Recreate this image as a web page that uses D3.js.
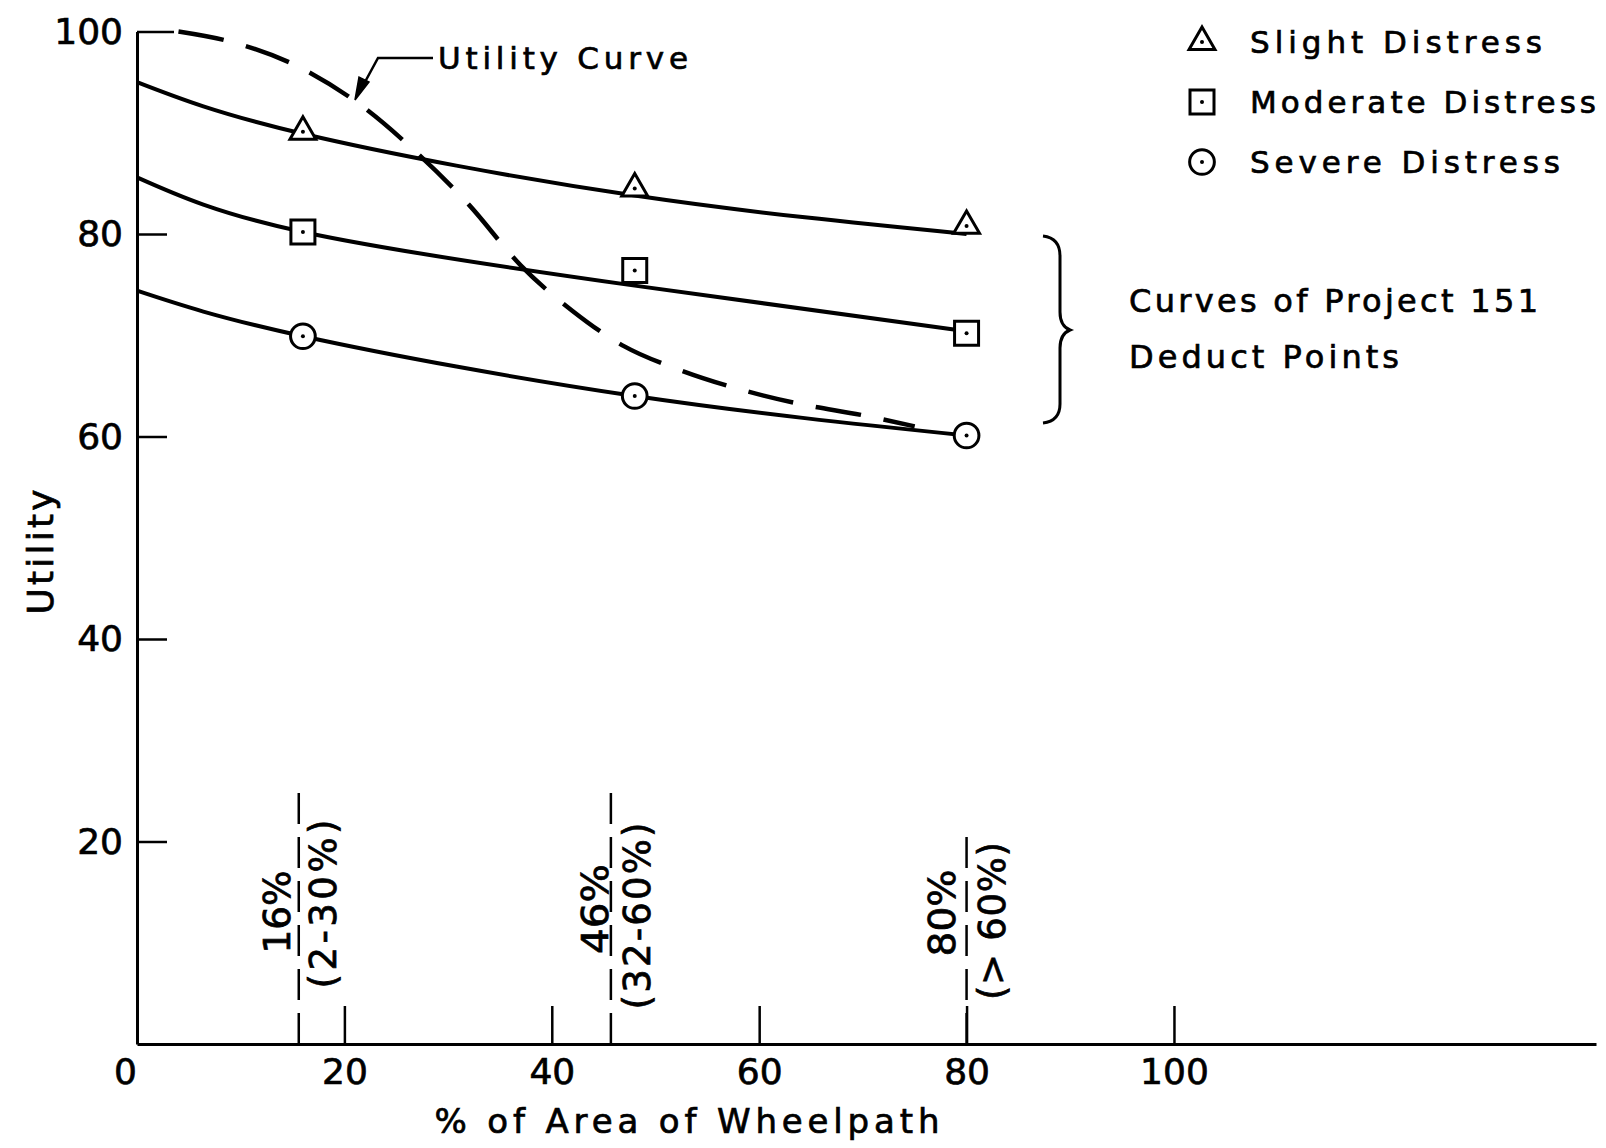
<!DOCTYPE html>
<html>
<head>
<meta charset="utf-8">
<script src="https://cdn.jsdelivr.net/npm/d3@7"></script>
<style>
	body { margin: 0; background: #fff; }
	svg text { font-family: 'DejaVu Sans', sans-serif; fill: #000; stroke: #000; stroke-width: 0.7px; }
</style>
</head>
<body>
<svg id="chart" width="1606" height="1148"></svg>
<script>
// data
var xTicks = [0, 20, 40, 60, 80, 100];
var yTicks = [20, 40, 60, 80, 100];

var areaPct = [16, 48, 80];
var slight = [90.1, 84.5, 80.8];
var moderate = [80.2, 76.4, 70.2];
var severe = [69.9, 64.0, 60.1];

// fitted (solid) curves
var fitX = [0, 16, 48, 80];
var slightFit = [95.0, 89.9, 83.8, 80.0];
var moderateFit = [85.6, 80.2, 74.9, 70.4];
var severeFit = [74.4, 69.9, 64.0, 60.1];

// dashed utility curve
var utilX = [4, 9, 16, 22, 27, 32, 37, 42, 47, 52, 58, 64, 70, 75];
var utilY = [100, 99, 96.3, 92.4, 88, 82.9, 76.9, 72.4, 68.9, 66.7, 64.7, 63.2, 62.1, 61.0];

// class markers on the x axis
var classX = [15.6, 45.7, 80];
var classTop = [24.8, 25.4, 21];
var classPct = ['16%', '46%', '80%'];
var classRange = ['(2-30%)', '(32-60%)', '(> 60%)'];

var legendNames = ['Slight Distress', 'Moderate Distress', 'Severe Distress'];

var svg = d3.select('svg#chart');

var xScale = d3.scaleLinear().domain([0, 140.7]).range([137, 1596]);
var yScale = d3.scaleLinear().domain([0, 100]).range([1044, 31.5]);

// axes
var xAxis = d3.axisBottom(xScale)
	.tickValues(xTicks)
	.tickSizeInner(-38)
	.tickSizeOuter(0)
	.tickPadding(14)
	.tickFormat(d3.format('d'));

var yAxis = d3.axisLeft(yScale)
	.tickValues(yTicks)
	.tickSizeInner(-30)
	.tickSizeOuter(0)
	.tickPadding(14)
	.tickFormat(d3.format('d'));

var gx = svg.append('g')
	.attr('transform', 'translate(0,' + yScale(0) + ')')
	.call(xAxis);

var gy = svg.append('g')
	.attr('transform', 'translate(' + xScale(0) + ',0)')
	.call(yAxis);

[gx, gy].forEach(function (g) {
	g.select('.domain').style('stroke', '#000').style('stroke-width', '3px');
	g.selectAll('.tick line').style('stroke', '#000').style('stroke-width', '2.5px');
	g.selectAll('.tick text')
		.attr('font-family', null)
		.style('font-size', '36px')
		.style('fill', '#000');
});

gx.selectAll('.tick')
	.filter(function (d) { return d === 0; })
	.each(function () {
		d3.select(this).select('line').remove();
		d3.select(this).select('text').attr('x', -12);
	});

gy.selectAll('.tick')
	.filter(function (d) { return d === 100; })
	.select('line')
	.attr('x2', 37);

// axis titles
svg.append('text')
	.attr('x', 687)
	.attr('y', 1133)
	.attr('text-anchor', 'middle')
	.attr('textLength', 505)
	.attr('lengthAdjust', 'spacing')
	.style('font-size', '34px')
	.text('% of Area of Wheelpath');

svg.append('text')
	.attr('transform', 'translate(53,552) rotate(-90)')
	.attr('text-anchor', 'middle')
	.attr('textLength', 125)
	.attr('lengthAdjust', 'spacing')
	.style('font-size', '36px')
	.text('Utility');

// class lines with labels
var classes = svg.selectAll('g.cls')
	.data(classX)
	.enter()
	.append('g')
	.attr('class', 'cls');

classes.append('line')
	.attr('x1', function (d) { return xScale(d); })
	.attr('x2', function (d) { return xScale(d); })
	.attr('y1', yScale(0))
	.attr('y2', function (d, i) { return yScale(classTop[i]); })
	.style('stroke', '#000')
	.style('stroke-width', '2.5px')
	.style('stroke-dasharray', '31 13');

var pctPos = [[290, 912, 83], [608, 909, 90], [955, 913, 87]];
var rangePos = [[336, 904, 169], [650, 916, 187], [1005, 921, 158]];

classes.append('text')
	.attr('transform', function (d, i) {
		return 'translate(' + pctPos[i][0] + ',' + pctPos[i][1] + ') rotate(-90)';
	})
	.attr('text-anchor', 'middle')
	.attr('textLength', function (d, i) { return pctPos[i][2]; })
	.attr('lengthAdjust', 'spacingAndGlyphs')
	.style('font-size', '38px')
	.text(function (d, i) { return classPct[i]; });

classes.append('text')
	.attr('transform', function (d, i) {
		return 'translate(' + rangePos[i][0] + ',' + rangePos[i][1] + ') rotate(-90)';
	})
	.attr('text-anchor', 'middle')
	.attr('textLength', function (d, i) { return rangePos[i][2]; })
	.attr('lengthAdjust', 'spacing')
	.style('font-size', '37px')
	.text(function (d, i) { return classRange[i]; });

// curves
var line = d3.line()
	.x(function (d) { return xScale(d[0]); })
	.y(function (d) { return yScale(d[1]); })
	.curve(d3.curveNatural);

[slightFit, moderateFit, severeFit].forEach(function (s) {
	svg.append('path')
		.datum(d3.zip(fitX, s))
		.attr('d', line)
		.style('fill', 'none')
		.style('stroke', '#000')
		.style('stroke-width', '4px');
});

svg.append('path')
	.datum(d3.zip(utilX, utilY))
	.attr('d', line.curve(d3.curveMonotoneX))
	.style('fill', 'none')
	.style('stroke', '#000')
	.style('stroke-width', '4.5px')
	.style('stroke-dasharray', '46 23');

// markers
var symbols = [
	d3.symbol(d3.symbolTriangle, 290),
	d3.symbol(d3.symbolSquare, 576),
	d3.symbol(d3.symbolCircle, 480)
];

function marker(g, k) {
	g.append('path')
		.attr('d', symbols[k]())
		.style('fill', '#fff')
		.style('stroke', '#000')
		.style('stroke-width', '3px');
	g.append('circle')
		.attr('r', 2)
		.style('fill', '#000');
}

[slight, moderate, severe].forEach(function (s, k) {
	svg.selectAll('g.pt' + k)
		.data(s)
		.enter()
		.append('g')
		.attr('class', 'pt' + k)
		.attr('transform', function (d, i) {
			return 'translate(' + xScale(areaPct[i]) + ',' + yScale(d) + ')';
		})
		.each(function () { marker(d3.select(this), k); });
});

// legend
var legendLen = [292, 346, 310];
var legend = svg.selectAll('g.legend')
	.data(legendNames)
	.enter()
	.append('g')
	.attr('class', 'legend')
	.attr('transform', function (d, i) {
		return 'translate(1202,' + (42 + i * 60) + ')';
	});

legend.each(function (d, i) { marker(d3.select(this), i); });

legend.append('text')
	.attr('x', 48)
	.attr('y', 11)
	.attr('textLength', function (d, i) { return legendLen[i]; })
	.attr('lengthAdjust', 'spacing')
	.style('font-size', '31px')
	.text(function (d) { return d; });

// utility curve label + leader
svg.append('text')
	.attr('x', 438)
	.attr('y', 69)
	.attr('textLength', 250)
	.attr('lengthAdjust', 'spacing')
	.style('font-size', '31px')
	.text('Utility Curve');

svg.append('path')
	.attr('d', 'M433,58 L378,58 L359,93')
	.style('fill', 'none')
	.style('stroke', '#000')
	.style('stroke-width', '2.5px');

svg.append('path')
	.attr('d', 'M355,100 L359,77 L369,82 Z')
	.style('fill', '#000')
	.style('stroke', '#000')
	.style('stroke-width', '1.5px');

// brace + note
svg.append('path')
	.attr('d', 'M1043,236 Q1060,238 1060,256 L1060,312 Q1060,326 1070,330 Q1060,334 1060,348 L1060,404 Q1060,421 1043,423')
	.style('fill', 'none')
	.style('stroke', '#000')
	.style('stroke-width', '3px');

svg.append('text')
	.attr('x', 1129)
	.attr('y', 312)
	.attr('textLength', 409)
	.attr('lengthAdjust', 'spacing')
	.style('font-size', '32px')
	.text('Curves of Project 151');

svg.append('text')
	.attr('x', 1129)
	.attr('y', 368)
	.attr('textLength', 270)
	.attr('lengthAdjust', 'spacing')
	.style('font-size', '32px')
	.text('Deduct Points');
</script>
</body>
</html>
